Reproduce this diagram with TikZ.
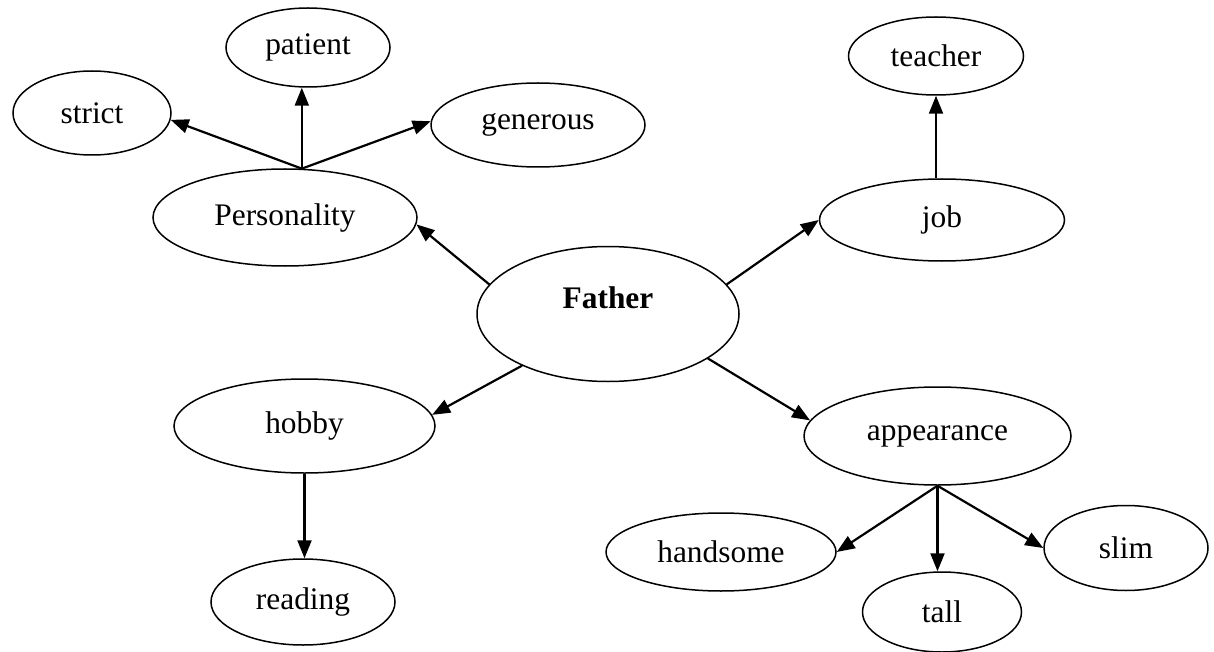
\documentclass[tikz,border=0pt]{standalone}
\usepackage{fontspec}
\setmainfont{Liberation Serif}
\usetikzlibrary{arrows.meta,shapes.geometric}

\begin{document}
\begin{tikzpicture}[x=0.5pt,y=-0.5pt,font=\fontsize{15.7}{19}\selectfont,
  >={Triangle[length=9pt,width=7pt]},
  e/.style={draw,ellipse,line width=0.75pt,inner sep=0pt},
  a/.style={->,line width=1.1pt}]
  \useasboundingbox (0,0) rectangle (1214,652);
  % centre
  \node[e,minimum width=131pt,minimum height=67.5pt,
    label={[yshift=8pt]center:\textbf{Father}}] (father) at (608,314) {};
  % personality branch
  \node[e,minimum width=132pt,minimum height=48.5pt] (pers) at (285,217.5) {Personality};
  \node[e,minimum width=79pt,minimum height=42pt] (strict) at (92,113) {strict};
  \node[e,minimum width=82pt,minimum height=39.5pt] (patient) at (308,47.5) {patient};
  \node[e,minimum width=107pt,minimum height=42pt] (generous) at (538,125) {generous};
  % job branch
  \node[e,minimum width=122.5pt,minimum height=41pt] (job) at (942,220) {job};
  \node[e,minimum width=87.5pt,minimum height=39pt] (teacher) at (936,56) {teacher};
  % hobby branch
  \node[e,minimum width=130.5pt,minimum height=47pt] (hobby) at (304.5,426) {hobby};
  \node[e,minimum width=92pt,minimum height=43pt] (reading) at (303,602) {reading};
  % appearance branch
  \node[e,minimum width=133.5pt,minimum height=49pt] (appear) at (937.5,436) {appearance};
  \node[e,minimum width=115pt,minimum height=39pt] (handsome) at (721,552) {handsome};
  \node[e,minimum width=79.5pt,minimum height=40pt] (tall) at (942,612) {tall};
  \node[e,minimum width=82pt,minimum height=42.5pt] (slim) at (1126,548) {slim};

  \draw[a] (father.166) -- (pers.-3);
  \draw[a] (father.14) -- (job.west);
  \draw[a] (father.211) -- (hobby.5);
  \draw[a] (father.-24) -- (appear.173);
  \draw[a] (pers.71) -- (strict.-5);
  \draw[a] (pers.71) -- (pers.71 |- patient.south);
  \draw[a] (pers.71) -- (generous.178);
  \draw[a] (teacher.south |- job.north) -- (teacher.south);
  \draw[a] (hobby.south) -- (hobby.south |- reading.north);
  \draw[a] (appear.south) -- (handsome.east);
  \draw[a] (appear.south) -- (appear.south |- tall.north);
  \draw[a] (appear.south) -- (slim.west);
\end{tikzpicture}
\end{document}
